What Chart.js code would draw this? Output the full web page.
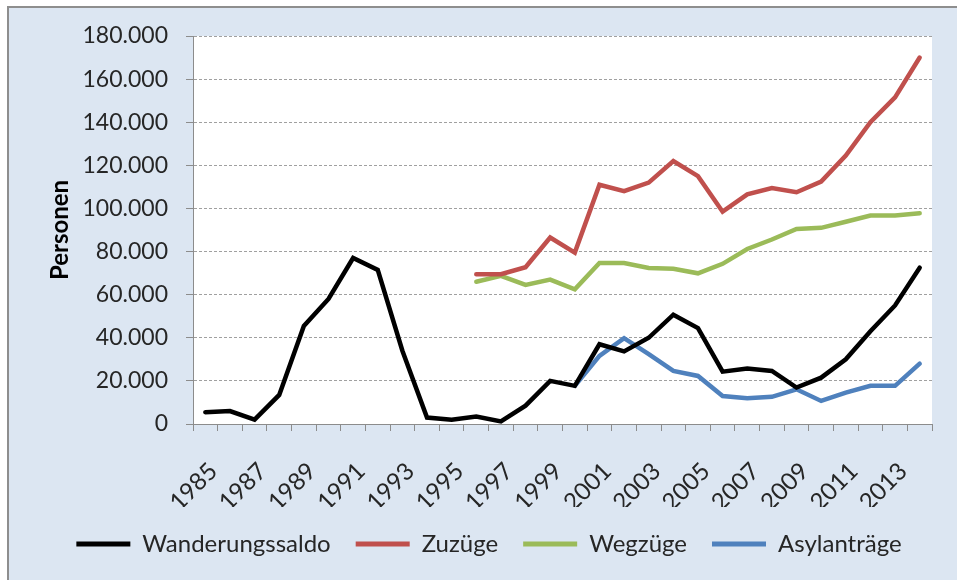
<!DOCTYPE html>
<html><head><meta charset="utf-8">
<script src="https://cdn.jsdelivr.net/npm/chart.js@4"></script>
<style>
html,body{margin:0;padding:0;background:#fff;}
#frame{position:absolute;left:7px;top:6px;width:970px;height:600px;border:2px solid #8e8e8e;background:#dce6f2;}
#wrap{position:absolute;left:0;top:0;width:957px;height:580px;}
</style></head>
<body>
<div id="frame"></div>
<div id="wrap"><canvas id="c" width="957" height="580"></canvas></div>
<script>
const years = ["1985","1986","1987","1988","1989","1990","1991","1992","1993","1994","1995","1996","1997","1998","1999","2000","2001","2002","2003","2004","2005","2006","2007","2008","2009","2010","2011","2012","2013","2014"];
const wanderungssaldo = [5500,6000,2000,13500,45500,58000,77000,71500,34000,3000,2000,3500,1200,8500,20000,17700,37000,33700,40000,50700,44500,24300,25700,24600,16900,21500,30000,43000,55000,72500];
const zuzuege = [null,null,null,null,null,null,null,null,null,null,null,69500,69500,72700,86500,79500,111000,108000,112000,122000,115000,98500,106500,109500,107500,112500,124500,140000,151500,170000];
const wegzuege = [null,null,null,null,null,null,null,null,null,null,null,66000,68700,64500,67000,62500,74700,74700,72400,72000,69900,74300,81200,85600,90500,91000,93800,96700,96700,97800];
const asylantraege = [null,null,null,null,null,null,null,null,null,null,null,null,null,null,null,17700,31600,39800,32400,24600,22300,13000,12000,12600,16100,10700,14600,17700,17700,28000];
const yTicks = [0,20000,40000,60000,80000,100000,120000,140000,160000,180000];

const FONT = "Lato";
const txt = "#262626";
const axisCol = "#8c8c8c";

const plotBg = {
  id:'plotBg',
  beforeDraw(chart){
    const a = chart.chartArea, ctx = chart.ctx;
    ctx.save(); ctx.fillStyle = '#ffffff';
    ctx.fillRect(a.left, a.top, a.right-a.left, a.bottom-a.top);
    ctx.restore();
  }
};

function ds(label, data, color){
  return {label, data, borderColor: color, backgroundColor: color, borderWidth: 4.5,
    pointRadius: 0, pointHoverRadius: 0, tension: 0, fill: false, spanGaps: false,
    borderJoinStyle: 'miter', borderCapStyle: 'round'};
}

new Chart(document.getElementById('c'), {
  type: 'line',
  data: {
    labels: years,
    datasets: [
      ds('Wanderungssaldo', wanderungssaldo, '#000000'),
      ds('Zuzüge', zuzuege, '#c0504d'),
      ds('Wegzüge', wegzuege, '#9bbb59'),
      ds('Asylanträge', asylantraege, '#4f81bd')
    ]
  },
  options: {
    responsive: false,
    animation: false,
    events: [],
    layout: { padding: { left: 46, right: 25, top: 36, bottom: 14 } },
    plugins: {
      tooltip: { enabled: false },
      legend: {
        position: 'bottom',
        labels: {
          font: { family: FONT, size: 24 },
          color: txt,
          boxWidth: 54,
          boxHeight: 5,
          padding: 25,
          generateLabels: (chart) => Chart.defaults.plugins.legend.labels.generateLabels(chart).map(l => ({...l, lineWidth: 0}))
        }
      }
    },
    scales: {
      x: {
        type: 'category',
        offset: true,
        grid: { display: true, drawOnChartArea: false, drawTicks: true, tickLength: 7, offset: true, color: axisCol, tickColor: axisCol },
        border: { display: true, color: axisCol, width: 1 },
        ticks: {
          autoSkip: false, maxRotation: 45, minRotation: 45,
          font: { family: FONT, size: 24 }, color: txt, padding: 26, labelOffset: 8,
          callback: function(v, i){ return i % 2 === 0 ? years[i] : ''; }
        },
        afterFit: (s) => { s.height = 83; s.paddingLeft = 0; s.paddingRight = 0; }
      },
      y: {
        min: 0, max: 180000,
        afterBuildTicks: (s) => { s.ticks = yTicks.map(v => ({value: v})); },
        grid: { color: '#a0a0a0', tickColor: axisCol, tickLength: 7, tickBorderDash: [], drawTicks: true, lineWidth: 1 },
        border: { display: true, color: axisCol, width: 1, dash: [3, 2] },
        ticks: {
          font: { family: FONT, size: 23 }, color: txt, padding: 18,
          callback: (v) => v === 0 ? '0' : v.toLocaleString('de-DE')
        },
        title: { display: true, text: 'Personen', font: { family: FONT, size: 24, weight: 'bold' }, color: '#000', padding: { top: 0, bottom: 0 } },
        afterFit: (s) => { s.width = 147; }
      }
    }
  },
  plugins: [plotBg]
});
</script>
</body></html>
